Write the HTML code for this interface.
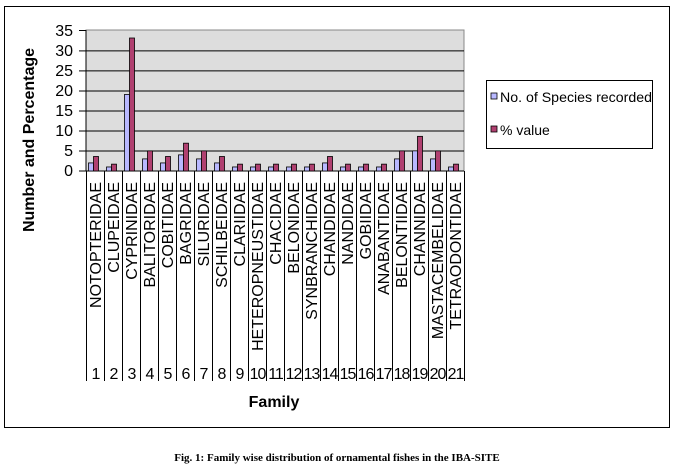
<!DOCTYPE html>
<html><head><style>body{margin:0;background:#fff}svg{display:block}</style></head><body>
<svg width="674" height="472" xmlns="http://www.w3.org/2000/svg" font-family="Liberation Sans, Arial, sans-serif">
<rect x="4.5" y="6.5" width="665" height="421" fill="#fff" stroke="#000" stroke-width="1"/>
<rect x="86" y="30" width="378" height="141" fill="#dddddd" stroke="#888" stroke-width="1"/>
<g stroke="#000" stroke-width="1">
<line x1="86" y1="50.9" x2="464" y2="50.9"/><line x1="86" y1="70.9" x2="464" y2="70.9"/>
<line x1="86" y1="91" x2="464" y2="91"/><line x1="86" y1="111" x2="464" y2="111"/>
<line x1="86" y1="131" x2="464" y2="131"/><line x1="86" y1="151" x2="464" y2="151"/>
<line x1="86" y1="30" x2="86" y2="171"/>
<line x1="79" y1="30.5" x2="86" y2="30.5"/><line x1="79" y1="50.9" x2="86" y2="50.9"/><line x1="79" y1="70.9" x2="86" y2="70.9"/><line x1="79" y1="91" x2="86" y2="91"/><line x1="79" y1="111" x2="86" y2="111"/><line x1="79" y1="131" x2="86" y2="131"/><line x1="79" y1="151" x2="86" y2="151"/>
<line x1="79" y1="171" x2="464" y2="171"/>
</g>
<g font-size="16" fill="#000" text-anchor="end">
<text x="73" y="36">35</text><text x="73" y="56">30</text><text x="73" y="76">25</text><text x="73" y="96">20</text><text x="73" y="116">15</text><text x="73" y="136">10</text><text x="73" y="156">5</text><text x="73" y="176">0</text>
</g>
<text transform="translate(34,140) rotate(-90)" text-anchor="middle" font-size="16" font-weight="bold">Number and Percentage</text>
<g stroke="#000" stroke-width="0.8">
<rect x="88.5" y="162.94" width="5" height="8.06" fill="#b8b8ff"/><rect x="93.5" y="156.49" width="5" height="14.51" fill="#b04070"/>
<rect x="106.5" y="166.97" width="5" height="4.03" fill="#b8b8ff"/><rect x="111.5" y="164.15" width="5" height="6.85" fill="#b04070"/>
<rect x="124.5" y="94.43" width="5" height="76.57" fill="#b8b8ff"/><rect x="129.5" y="38.01" width="5" height="132.99" fill="#b04070"/>
<rect x="142.5" y="158.91" width="5" height="12.09" fill="#b8b8ff"/><rect x="147.5" y="150.85" width="5" height="20.15" fill="#b04070"/>
<rect x="160.5" y="162.94" width="5" height="8.06" fill="#b8b8ff"/><rect x="165.5" y="156.49" width="5" height="14.51" fill="#b04070"/>
<rect x="178.5" y="154.88" width="5" height="16.12" fill="#b8b8ff"/><rect x="183.5" y="143.19" width="5" height="27.81" fill="#b04070"/>
<rect x="196.5" y="158.91" width="5" height="12.09" fill="#b8b8ff"/><rect x="201.5" y="150.85" width="5" height="20.15" fill="#b04070"/>
<rect x="214.5" y="162.94" width="5" height="8.06" fill="#b8b8ff"/><rect x="219.5" y="156.49" width="5" height="14.51" fill="#b04070"/>
<rect x="232.5" y="166.97" width="5" height="4.03" fill="#b8b8ff"/><rect x="237.5" y="164.15" width="5" height="6.85" fill="#b04070"/>
<rect x="250.5" y="166.97" width="5" height="4.03" fill="#b8b8ff"/><rect x="255.5" y="164.15" width="5" height="6.85" fill="#b04070"/>
<rect x="268.5" y="166.97" width="5" height="4.03" fill="#b8b8ff"/><rect x="273.5" y="164.15" width="5" height="6.85" fill="#b04070"/>
<rect x="286.5" y="166.97" width="5" height="4.03" fill="#b8b8ff"/><rect x="291.5" y="164.15" width="5" height="6.85" fill="#b04070"/>
<rect x="304.5" y="166.97" width="5" height="4.03" fill="#b8b8ff"/><rect x="309.5" y="164.15" width="5" height="6.85" fill="#b04070"/>
<rect x="322.5" y="162.94" width="5" height="8.06" fill="#b8b8ff"/><rect x="327.5" y="156.49" width="5" height="14.51" fill="#b04070"/>
<rect x="340.5" y="166.97" width="5" height="4.03" fill="#b8b8ff"/><rect x="345.5" y="164.15" width="5" height="6.85" fill="#b04070"/>
<rect x="358.5" y="166.97" width="5" height="4.03" fill="#b8b8ff"/><rect x="363.5" y="164.15" width="5" height="6.85" fill="#b04070"/>
<rect x="376.5" y="166.97" width="5" height="4.03" fill="#b8b8ff"/><rect x="381.5" y="164.15" width="5" height="6.85" fill="#b04070"/>
<rect x="394.5" y="158.91" width="5" height="12.09" fill="#b8b8ff"/><rect x="399.5" y="150.85" width="5" height="20.15" fill="#b04070"/>
<rect x="412.5" y="150.85" width="5" height="20.15" fill="#b8b8ff"/><rect x="417.5" y="136.34" width="5" height="34.66" fill="#b04070"/>
<rect x="430.5" y="158.91" width="5" height="12.09" fill="#b8b8ff"/><rect x="435.5" y="150.85" width="5" height="20.15" fill="#b04070"/>
<rect x="448.5" y="166.97" width="5" height="4.03" fill="#b8b8ff"/><rect x="453.5" y="164.15" width="5" height="6.85" fill="#b04070"/>
</g>
<g stroke="#000" stroke-width="1">
<line x1="86.5" y1="171" x2="86.5" y2="381"/><line x1="104.5" y1="171" x2="104.5" y2="381"/><line x1="122.5" y1="171" x2="122.5" y2="381"/><line x1="140.5" y1="171" x2="140.5" y2="381"/><line x1="158.5" y1="171" x2="158.5" y2="381"/><line x1="176.5" y1="171" x2="176.5" y2="381"/><line x1="194.5" y1="171" x2="194.5" y2="381"/><line x1="212.5" y1="171" x2="212.5" y2="381"/><line x1="230.5" y1="171" x2="230.5" y2="381"/><line x1="248.5" y1="171" x2="248.5" y2="381"/><line x1="266.5" y1="171" x2="266.5" y2="381"/><line x1="284.5" y1="171" x2="284.5" y2="381"/><line x1="302.5" y1="171" x2="302.5" y2="381"/><line x1="320.5" y1="171" x2="320.5" y2="381"/><line x1="338.5" y1="171" x2="338.5" y2="381"/><line x1="356.5" y1="171" x2="356.5" y2="381"/><line x1="374.5" y1="171" x2="374.5" y2="381"/><line x1="392.5" y1="171" x2="392.5" y2="381"/><line x1="410.5" y1="171" x2="410.5" y2="381"/><line x1="428.5" y1="171" x2="428.5" y2="381"/><line x1="446.5" y1="171" x2="446.5" y2="381"/><line x1="464.5" y1="171" x2="464.5" y2="381"/>
</g>
<g font-size="16" text-anchor="end">
<text transform="translate(101,182) rotate(-90)">NOTOPTERIDAE</text>
<text transform="translate(119,182) rotate(-90)">CLUPEIDAE</text>
<text transform="translate(137,182) rotate(-90)">CYPRINIDAE</text>
<text transform="translate(155,182) rotate(-90)">BALITORIDAE</text>
<text transform="translate(173,182) rotate(-90)">COBITIDAE</text>
<text transform="translate(191,182) rotate(-90)">BAGRIDAE</text>
<text transform="translate(209,182) rotate(-90)">SILURIDAE</text>
<text transform="translate(227,182) rotate(-90)">SCHILBEIDAE</text>
<text transform="translate(245,182) rotate(-90)">CLARIIDAE</text>
<text transform="translate(263,182) rotate(-90)">HETEROPNEUSTIDAE</text>
<text transform="translate(281,182) rotate(-90)">CHACIDAE</text>
<text transform="translate(299,182) rotate(-90)">BELONIDAE</text>
<text transform="translate(317,182) rotate(-90)">SYNBRANCHIDAE</text>
<text transform="translate(335,182) rotate(-90)">CHANDIDAE</text>
<text transform="translate(353,182) rotate(-90)">NANDIDAE</text>
<text transform="translate(371,182) rotate(-90)">GOBIIDAE</text>
<text transform="translate(389,182) rotate(-90)">ANABANTIDAE</text>
<text transform="translate(407,182) rotate(-90)">BELONTIIDAE</text>
<text transform="translate(425,182) rotate(-90)">CHANNIDAE</text>
<text transform="translate(443,182) rotate(-90)">MASTACEMBELIDAE</text>
<text transform="translate(461,182) rotate(-90)">TETRAODONTIDAE</text>
</g>
<g font-size="16" text-anchor="middle" letter-spacing="-1">
<text x="95.5" y="379">1</text><text x="113.5" y="379">2</text><text x="131.5" y="379">3</text><text x="149.5" y="379">4</text><text x="167.5" y="379">5</text><text x="185.5" y="379">6</text><text x="203.5" y="379">7</text><text x="221.5" y="379">8</text><text x="239.5" y="379">9</text><text x="257.5" y="379">10</text><text x="275.5" y="379">11</text><text x="293.5" y="379">12</text><text x="311.5" y="379">13</text><text x="329.5" y="379">14</text><text x="347.5" y="379">15</text><text x="365.5" y="379">16</text><text x="383.5" y="379">17</text><text x="401.5" y="379">18</text><text x="419.5" y="379">19</text><text x="437.5" y="379">20</text><text x="455.5" y="379">21</text>
</g>
<text x="274" y="407" text-anchor="middle" font-size="16" font-weight="bold">Family</text>
<rect x="486.5" y="80.5" width="166" height="68" fill="#fff" stroke="#000"/>
<rect x="491" y="93" width="6" height="6" fill="#b8b8ff" stroke="#000" stroke-width="0.8"/>
<text x="500" y="102" font-size="14" textLength="152" lengthAdjust="spacingAndGlyphs">No. of Species recorded</text>
<rect x="491" y="126" width="6" height="6" fill="#b04070" stroke="#000" stroke-width="0.8"/>
<text x="500" y="135" font-size="14">% value</text>
<text x="337" y="461" text-anchor="middle" font-family="Liberation Serif, serif" font-size="11" font-weight="bold">Fig. 1: Family wise distribution of ornamental fishes in the IBA-SITE</text>
</svg>
</body></html>
